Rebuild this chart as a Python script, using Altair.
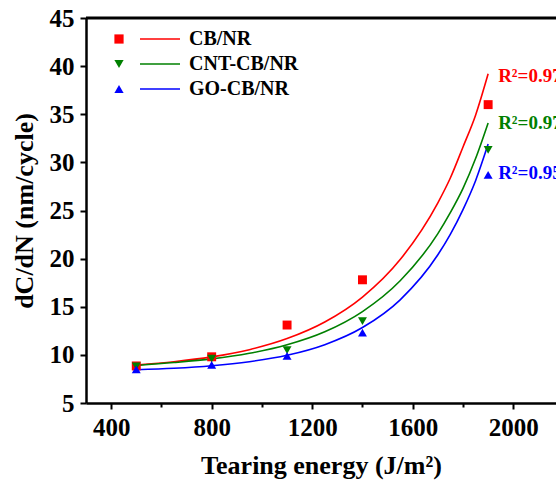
import altair as alt
import pandas as pd

# ---- data ----
series = ["CB/NR", "CNT-CB/NR", "GO-CB/NR"]
colors = ["#FF0000", "#008000", "#0000FF"]
shapes = ["square", "triangle-down", "triangle-up"]

energy = [500, 800, 1100, 1400, 1900]
cb_nr = [8.85, 9.8, 13.1, 17.8, 36.0]
cnt_cb_nr = [8.8, 9.6, 10.5, 13.5, 31.3]
go_cb_nr = [8.5, 8.95, 9.9, 12.3, 28.7]

fit_energy = [500, 650, 800, 950, 1100, 1250, 1400, 1550, 1700, 1750, 1800, 1850, 1900]
cb_fit = [8.95, 9.29, 9.79, 10.54, 11.69, 13.41, 16.0, 19.9, 25.8, 28.4, 31.6, 34.9, 39.2]
cnt_fit = [8.9, 9.2, 9.58, 10.16, 11.05, 12.4, 14.5, 17.7, 22.6, 24.8, 27.3, 30.4, 34.1]
go_fit = [8.45, 8.61, 8.87, 9.29, 9.96, 11.06, 12.84, 15.72, 20.4, 22.55, 25.1, 28.1, 31.9]

r2_labels = ["R²=0.97", "R²=0.97", "R²=0.95"]
r2_energy = [1900, 1900, 1900]
r2_y = [39.0, 34.1, 28.9]

x_ticks = [400, 600, 800, 1000, 1200, 1400, 1600, 1800, 2000]
y_ticks = [5, 7.5, 10, 12.5, 15, 17.5, 20, 22.5, 25, 27.5, 30, 32.5, 35, 37.5, 40, 42.5, 45]

# ---- tables ----
pts = pd.DataFrame({
    "energy": energy * 3,
    "value": cb_nr + cnt_cb_nr + go_cb_nr,
    "series": sum([[s] * len(energy) for s in series], []),
})
fit = pd.DataFrame({
    "energy": fit_energy * 3,
    "value": cb_fit + cnt_fit + go_fit,
    "curve": sum([[s] * len(fit_energy) for s in series], []),
})
r2 = pd.DataFrame({"energy": r2_energy, "value": r2_y, "label": r2_labels, "hex": colors})
frame = pd.DataFrame({"a": [1]})

FONT = "Liberation Serif"
xs = alt.Scale(domain=[300, 2170], nice=False, zero=False)
ys = alt.Scale(domain=[5, 45], nice=False, zero=False)

xaxis = alt.Axis(
    values=x_ticks, format="d",
    labelExpr="datum.value % 400 === 0 ? datum.label : ''",
    tickSize={"condition": {"test": "datum.value % 400 === 0", "value": 6}, "value": 4},
    tickWidth=2, tickColor="black", domainColor="black", domainWidth=2.5,
    labelFont=FONT, labelFontSize=25, labelFontWeight="bold", labelColor="black",
    labelPadding=6, grid=False,
    title="Tearing energy (J/m²)", titleFont=FONT, titleFontSize=26,
    titleFontWeight="bold", titleColor="black", titlePadding=12,
)
yaxis = alt.Axis(
    values=y_ticks,
    labelExpr="datum.value % 5 === 0 ? datum.label : ''",
    tickSize={"condition": {"test": "datum.value % 5 === 0", "value": 6}, "value": 4},
    tickWidth=2, tickColor="black", domainColor="black", domainWidth=2.5,
    labelFont=FONT, labelFontSize=25, labelFontWeight="bold", labelColor="black",
    labelPadding=6, grid=False,
    title="dC/dN (nm/cycle)", titleFont=FONT, titleFontSize=26,
    titleFontWeight="bold", titleColor="black", titlePadding=12,
)

lines = alt.Chart(fit).mark_line(strokeWidth=1.6, interpolate="monotone").encode(
    x=alt.X("energy:Q", scale=xs, axis=xaxis),
    y=alt.Y("value:Q", scale=ys, axis=yaxis),
    stroke=alt.Stroke(
        "curve:N", sort=series,
        scale=alt.Scale(range=colors),
        legend=alt.Legend(
            orient="none", legendX=64, legendY=11, title=None, padding=0,
            symbolType="M-2.5,0H2.5", symbolSize=256, symbolStrokeWidth=1.6,
            symbolFillColor="transparent",
            labelFont=FONT, labelFontSize=20, labelFontWeight="bold",
            labelColor="black", labelOffset=19, rowPadding=5,
        ),
    ),
)

points = alt.Chart(pts).mark_point(filled=True, size=80, opacity=1).encode(
    x=alt.X("energy:Q", scale=xs),
    y=alt.Y("value:Q", scale=ys),
    color=alt.Color(
        "series:N", sort=series,
        scale=alt.Scale(domain=series, range=colors),
        legend=alt.Legend(
            orient="none", legendX=23, legendY=11, title=None, padding=0,
            symbolSize=85, symbolOpacity=1, labelExpr="''",
            labelFontSize=20, rowPadding=5,
        ),
    ),
    shape=alt.Shape(
        "series:N", sort=series,
        scale=alt.Scale(domain=series, range=shapes),
    ),
)

texts = alt.Chart(r2).mark_text(
    align="left", baseline="middle", dx=10, font=FONT, fontSize=19, fontWeight="bold"
).encode(
    x=alt.X("energy:Q", scale=xs),
    y=alt.Y("value:Q", scale=ys),
    text="label:N",
    fill=alt.Fill("hex:N", scale=None, legend=None),
)

top = alt.Chart(frame).mark_rule(color="black", strokeWidth=3).encode(
    x=alt.datum(300), x2=alt.datum(2170), y=alt.datum(45)
)

chart = alt.layer(top, lines, points, texts).properties(
    width=470, height=385,
    autosize=alt.AutoSizeParams(type="none"),
    padding={"left": 86, "top": 18, "right": 0, "bottom": 79},
    background="white",
).configure_view(stroke=None)

chart.save("out.html", embed_options={"renderer": "svg", "actions": False})
